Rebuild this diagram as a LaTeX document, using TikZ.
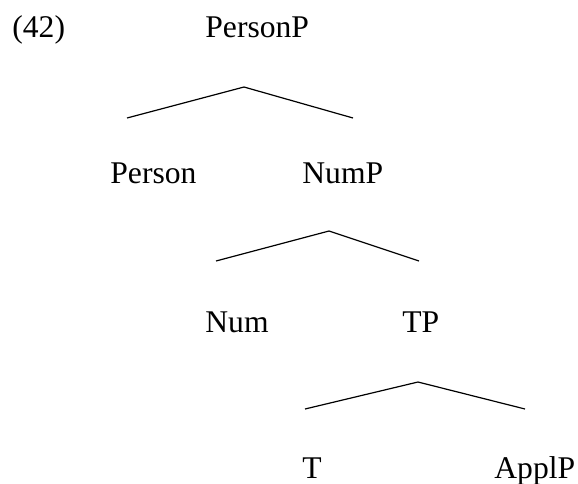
\documentclass[tikz,border=0pt]{standalone}
\usepackage{fontspec}
\setmainfont{Liberation Serif}
\begin{document}
\begin{tikzpicture}[x=0.5pt,y=-0.5pt,
  lab/.style={anchor=base west,inner sep=0pt,font=\fontsize{15.8pt}{19pt}\selectfont},
  branch/.style={line width=0.6pt,line join=miter}]
\useasboundingbox (0,0) rectangle (578,483);
% labels
\node[lab] (ex) at (12,37) {(42)};
\node[lab] (personp) at (205,37) {PersonP};
\node[lab] (person) at (110,183) {Person};
\node[lab] (nump) at (302,183) {NumP};
\node[lab] (num) at (205,332) {Num};
\node[lab] (tp) at (402,332) {TP};
\node[lab] (t) at (302,478) {T};
\node[lab] (applp) at (494,478) {ApplP};
% branch points
\coordinate (a1) at (244,87);
\coordinate (l1) at (127,118);
\coordinate (r1) at (353,118);
\coordinate (a2) at (329,231);
\coordinate (l2) at (216,261);
\coordinate (r2) at (419,261);
\coordinate (a3) at (418,382);
\coordinate (l3) at (305,409);
\coordinate (r3) at (525,409);
\draw[branch] (l1) -- (a1) -- (r1);
\draw[branch] (l2) -- (a2) -- (r2);
\draw[branch] (l3) -- (a3) -- (r3);
\end{tikzpicture}
\end{document}
